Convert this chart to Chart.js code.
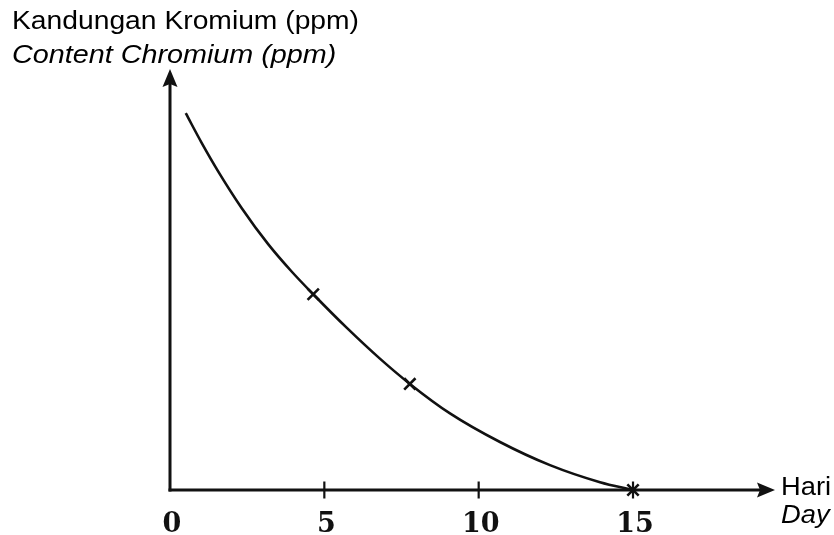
<!DOCTYPE html>
<html>
<head>
<meta charset="utf-8">
<script src="https://cdn.jsdelivr.net/npm/chart.js@4/dist/chart.umd.min.js"></script>
<style>
html,body{margin:0;padding:0;background:#fff;}
#wrap{width:834px;height:535px;position:relative;}
</style>
</head>
<body>
<div id="wrap"><canvas id="c" width="834" height="535"></canvas></div>
<script>
// Data
const curveDays    = [0.51, 1.03, 1.56, 2.32, 3.18, 3.94, 4.64, 5.73, 6.80, 7.77, 9.07, 10.69, 12.31, 13.93, 15.0];
const curveContent = [89.5, 82.4, 75.7, 67.0, 58.4, 51.9, 46.5, 38.5, 31.2, 25.2, 18.2, 11.4, 5.9, 1.85, 0];
const markDays     = [4.64, 7.77, 15.0];
const markContent  = [46.5, 25.2, 0];
const tickDays     = [0, 5, 10, 15];
const yTitle1 = 'Kandungan Kromium (ppm)';
const yTitle2 = 'Content Chromium (ppm)';
const xTitle1 = 'Hari';
const xTitle2 = 'Day';

const axesPlugin = {
  id: 'axesPlugin',
  afterDraw(chart) {
    const ctx = chart.ctx;
    const xs = chart.scales.x, ys = chart.scales.y;
    const ca = chart.chartArea;
    const x0 = xs.getPixelForValue(0);
    const y0 = ys.getPixelForValue(0);
    ctx.save();
    ctx.strokeStyle = '#111';
    ctx.fillStyle = '#111';
    ctx.lineWidth = 3;
    // y axis
    ctx.beginPath();
    ctx.moveTo(x0, y0 + 1.5);
    ctx.lineTo(x0, ca.top + 12);
    ctx.stroke();
    ctx.beginPath();
    ctx.moveTo(x0, ca.top);
    ctx.lineTo(x0 - 7.5, ca.top + 18);
    ctx.lineTo(x0, ca.top + 15);
    ctx.lineTo(x0 + 7.5, ca.top + 18);
    ctx.closePath();
    ctx.fill();
    // x axis
    ctx.beginPath();
    ctx.moveTo(x0 - 1.5, y0);
    ctx.lineTo(ca.right - 12, y0);
    ctx.stroke();
    ctx.beginPath();
    ctx.moveTo(ca.right, y0);
    ctx.lineTo(ca.right - 18, y0 - 7.5);
    ctx.lineTo(ca.right - 15, y0);
    ctx.lineTo(ca.right - 18, y0 + 7.5);
    ctx.closePath();
    ctx.fill();
    // ticks
    ctx.lineWidth = 2.2;
    tickDays.forEach(v => {
      if (v === 0) return;
      const px = xs.getPixelForValue(v);
      ctx.beginPath();
      ctx.moveTo(px, y0 - 8.5);
      ctx.lineTo(px, y0 + 8.5);
      ctx.stroke();
    });
    // tick labels
    ctx.font = 'bold 27px "DejaVu Serif"';
    ctx.textAlign = 'center';
    ctx.textBaseline = 'alphabetic';
    tickDays.forEach(v => {
      const px = xs.getPixelForValue(v);
      ctx.fillText(String(v), px + 2, 532);
    });
    // titles
    ctx.textAlign = 'left';
    ctx.fillStyle = '#000';
    const stretchText = (txt, x, y, font, sx) => {
      ctx.save();
      ctx.font = font;
      ctx.translate(x, y);
      ctx.scale(sx, 1);
      ctx.fillText(txt, 0, 0);
      ctx.restore();
    };
    stretchText(yTitle1, 12, 28.5, '25px "Liberation Sans"', 1.13);
    stretchText(yTitle2, 12, 63, 'italic 25px "Liberation Sans"', 1.15);
    stretchText(xTitle1, 781, 494.5, '26px "Liberation Sans"', 1.05);
    stretchText(xTitle2, 781, 523, 'italic 26px "Liberation Sans"', 1.05);
    ctx.restore();
  }
};

new Chart(document.getElementById('c'), {
  type: 'scatter',
  data: {
    datasets: [
      {
        label: 'curve',
        data: curveDays.map((d, i) => ({x: d, y: curveContent[i]})),
        showLine: true,
        borderColor: '#111',
        borderWidth: 2.6,
        pointRadius: 0,
        cubicInterpolationMode: 'monotone',
        fill: false,
        clip: false
      },
      {
        label: 'marks',
        data: markDays.map((d, i) => ({x: d, y: markContent[i]})),
        showLine: false,
        pointStyle: 'crossRot',
        pointRadius: 8,
        borderColor: '#111',
        borderWidth: 2.6,
        clip: false
      }
    ]
  },
  options: {
    responsive: false,
    animation: false,
    devicePixelRatio: 1,
    layout: { padding: { left: 170, right: 59, top: 69, bottom: 45 } },
    plugins: { legend: { display: false }, tooltip: { enabled: false }, title: { display: false } },
    scales: {
      x: { type: 'linear', min: 0, max: 19.6, display: false },
      y: { type: 'linear', min: 0, max: 100, display: false }
    }
  },
  plugins: [axesPlugin]
});
</script>
</body>
</html>
